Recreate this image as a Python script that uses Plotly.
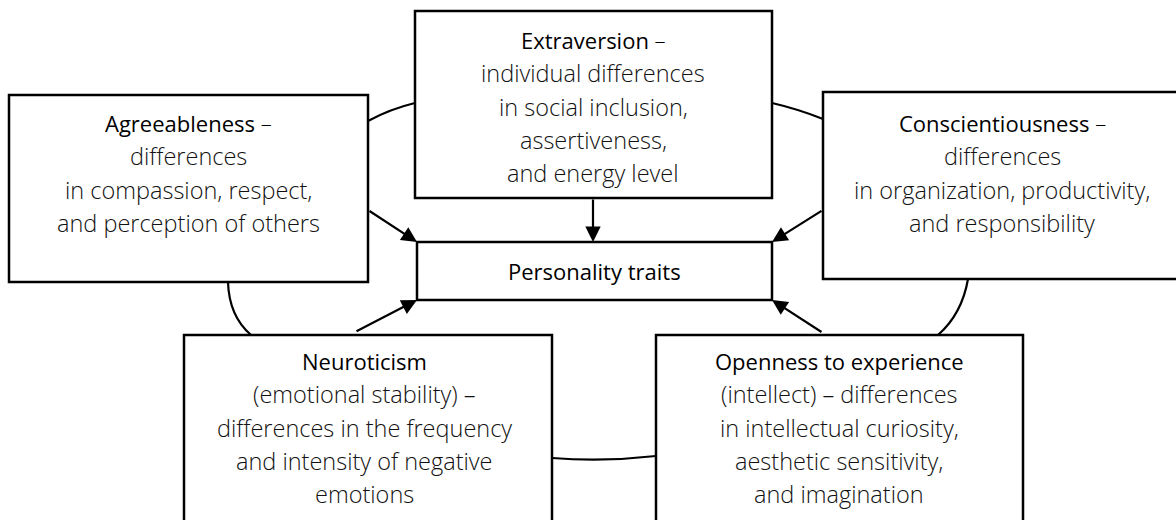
import plotly.graph_objects as go

# ---- content ----
traits = ["Agreeableness", "Extraversion", "Conscientiousness", "Neuroticism", "Openness to experience"]
suffix = [" –", " –", " –", "", ""]
descriptions = [
    ["differences", "in compassion, respect,", "and perception of others"],
    ["individual differences", "in social inclusion,", "assertiveness,", "and energy level"],
    ["differences", "in organization, productivity,", "and responsibility"],
    ["(emotional stability) –", "differences in the frequency", "and intensity of negative", "emotions"],
    ["(intellect) – differences", "in intellectual curiosity,", "aesthetic sensitivity,", "and imagination"],
]
center_label = "Personality traits"

# ---- layout (pixel coordinates) ----
W, H = 1176, 520
boxes = [  # x0, y0, x1, y1
    (9, 95, 368, 282),
    (415, 11, 772, 198),
    (823, 92, 1185, 279),
    (184, 335, 552, 530),
    (656, 335, 1023, 530),
]
text_cx = [188, 593, 1002, 364, 839]
first_line_y = [123, 40, 123, 361, 361]
line_step = 33.3
center_box = (417, 242, 772, 300)

arrows = [  # tail (x, y) -> head (x, y)
    ((368, 210), (417, 242)),
    ((593, 198), (593, 242)),
    ((823, 210), (772, 242)),
    ((355, 332), (417, 300)),
    ((823, 333), (772, 300)),
]
curves = [  # start, control, end (quadratic)
    ((368, 121), (390, 109), (415, 103)),
    ((772, 103), (798, 109), (823, 119)),
    ((228, 282), (229, 316), (251, 335)),
    ((968, 279), (962, 314), (938, 335)),
    ((552, 458), (604, 462), (656, 456)),
]

FONT = "Open Sans"
TXT = "#111111"
BODY_SIZE = 23.5
TITLE_SIZE = 22

shapes = []
annotations = []

for (s, c, e) in curves:
    shapes.append(dict(type="path", xref="x", yref="y",
                       path=f"M {s[0]},{s[1]} Q {c[0]},{c[1]} {e[0]},{e[1]}",
                       line=dict(color="black", width=2.2)))

for (x0, y0, x1, y1) in boxes + [center_box]:
    shapes.append(dict(type="rect", xref="x", yref="y", x0=x0, y0=y0, x1=x1, y1=y1,
                       line=dict(color="black", width=2.5), fillcolor="white"))

for i in range(len(boxes)):
    cx = text_cx[i]
    y = first_line_y[i]
    annotations.append(dict(
        x=cx, y=y, xref="x", yref="y", showarrow=False,
        text=f"{traits[i]}<span style='font-weight:300'>{suffix[i]}</span>",
        font=dict(family=FONT, size=TITLE_SIZE, color="#000", weight=400)))
    for j, line in enumerate(descriptions[i]):
        annotations.append(dict(
            x=cx, y=y + (j + 1) * line_step, xref="x", yref="y", showarrow=False,
            text=line, font=dict(family=FONT, size=BODY_SIZE, color=TXT, weight=300)))

annotations.append(dict(
    x=(center_box[0] + center_box[2]) / 2, y=(center_box[1] + center_box[3]) / 2,
    xref="x", yref="y", showarrow=False, text=center_label,
    font=dict(family=FONT, size=TITLE_SIZE, color="#000", weight=400)))

for (t, h) in arrows:
    annotations.append(dict(
        x=h[0], y=h[1], ax=t[0], ay=t[1], xref="x", yref="y", axref="x", ayref="y",
        showarrow=True, arrowhead=2, arrowsize=1.4, arrowwidth=2.2, arrowcolor="black",
        text="", standoff=0))

fig = go.Figure()
fig.update_layout(
    width=W, height=H, margin=dict(l=0, r=0, t=0, b=0),
    paper_bgcolor="white", plot_bgcolor="white",
    xaxis=dict(range=[0, W], visible=False, fixedrange=True),
    yaxis=dict(range=[H, 0], visible=False, fixedrange=True),
    shapes=shapes, annotations=annotations, showlegend=False,
)
fig.write_html("out.html", config={"displayModeBar": False},
               post_script="document.body.style.margin='0';document.body.style.overflow='hidden';")
